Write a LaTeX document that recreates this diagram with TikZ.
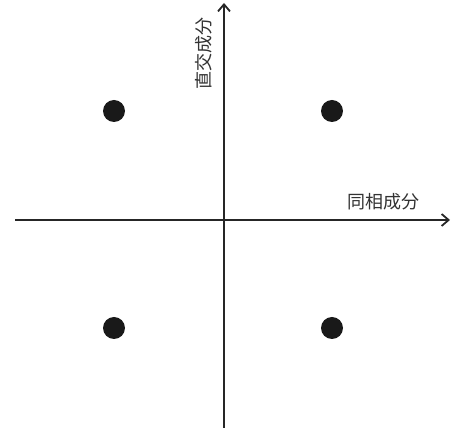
\documentclass[tikz,border=0pt]{standalone}
\usepackage{fontspec}
\newfontfamily\cjk{Noto Sans CJK JP}
\usetikzlibrary{arrows.meta}
\begin{document}
\begin{tikzpicture}[x=1pt,y=-1pt,
  axis/.style={line width=2.2pt,color=black!85,-{Straight Barb[length=7pt,width=12pt,line width=1.8pt]}},
  dot/.style={circle,fill=black!90,minimum size=22pt,inner sep=0pt},
  lbl/.style={font=\cjk\fontsize{18}{18}\selectfont,text=black!80,inner sep=0pt}]
\useasboundingbox (0,0) rectangle (451,430);
\coordinate (xl) at (15,220);
\coordinate (xr) at (450,220);
\coordinate (yb) at (224,428);
\coordinate (yt) at (224,3);
\draw[axis] (xl) -- (xr);
\draw[axis] (yb) -- (yt);
\node[dot] (d1) at (114,111) {};
\node[dot] (d2) at (332,111) {};
\node[dot] (d3) at (114,328) {};
\node[dot] (d4) at (332,328) {};
\node[lbl] (lx) at (383,202) {同相成分};
\node[lbl,rotate=90] (ly) at (204,54) {直交成分};
\end{tikzpicture}
\end{document}
